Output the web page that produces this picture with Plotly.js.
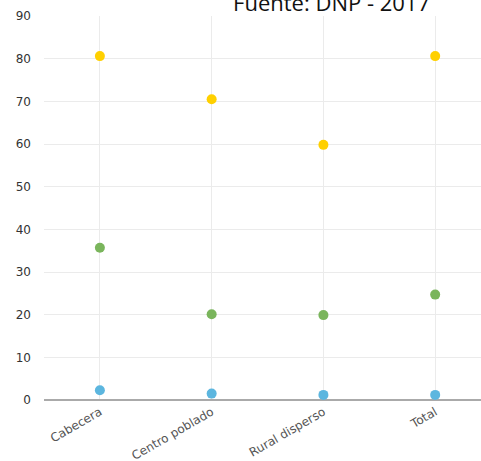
<!DOCTYPE html>
<html>
<head>
<meta charset="utf-8">
<script src="https://cdn.plot.ly/plotly-3.0.1.min.js"></script>
<style>html,body{margin:0;padding:0;background:#fff;}#chart{width:481px;height:461px;}</style>
</head>
<body>
<div id="chart"></div>
<script>
const categories = ["Cabecera", "Centro poblado", "Rural disperso", "Total"];
const seriesYellow = [80.6, 70.5, 59.8, 80.6];
const seriesGreen = [35.7, 20.1, 19.9, 24.7];
const seriesBlue = [2.3, 1.5, 1.2, 1.2];
const yTicks = [0, 10, 20, 30, 40, 50, 60, 70, 80, 90];

const xIdx = categories.map((c, i) => i);
function mk(y, color) {
  return {type: "scatter", mode: "markers", x: xIdx, y: y,
    marker: {color: color, size: 10}, hoverinfo: "none", showlegend: false, cliponaxis: false};
}
const data = [
  mk(seriesYellow, "#FFD000"),
  mk(seriesGreen, "#7AB55C"),
  mk(seriesBlue, "#5CB6DF")
];
const layout = {
  width: 481, height: 461,
  margin: {l: 44, r: 0, t: 16, b: 61},
  paper_bgcolor: "#fff", plot_bgcolor: "#fff",
  font: {family: "DejaVu Sans, Verdana, sans-serif", size: 11, color: "#333"},
  title: {text: "Fuente: DNP - 2017", font: {family: "Open Sans, sans-serif", size: 22, color: "#111"},
    x: 0.658, xanchor: "center", xref: "paper", yref: "container", y: 0.976, yanchor: "bottom"},
  xaxis: {range: [-0.5, 3.41], tickvals: xIdx, ticktext: categories, tickangle: -30,
    showgrid: true, gridcolor: "#ebebeb", gridwidth: 1, zeroline: false, showline: false,
    ticks: "", ticklabelstandoff: 2, tickfont: {size: 12, color: "#555"}},
  yaxis: {range: [0, 90], tickvals: yTicks, showgrid: true, gridcolor: "#ebebeb", gridwidth: 1,
    zeroline: true, zerolinecolor: "#aaaaaa", zerolinewidth: 2, showline: false, ticks: "",
    ticklabelstandoff: 12, tickfont: {size: 12, color: "#333"}}
};
Plotly.newPlot("chart", data, layout, {displayModeBar: false, staticPlot: true});
</script>
</body>
</html>
